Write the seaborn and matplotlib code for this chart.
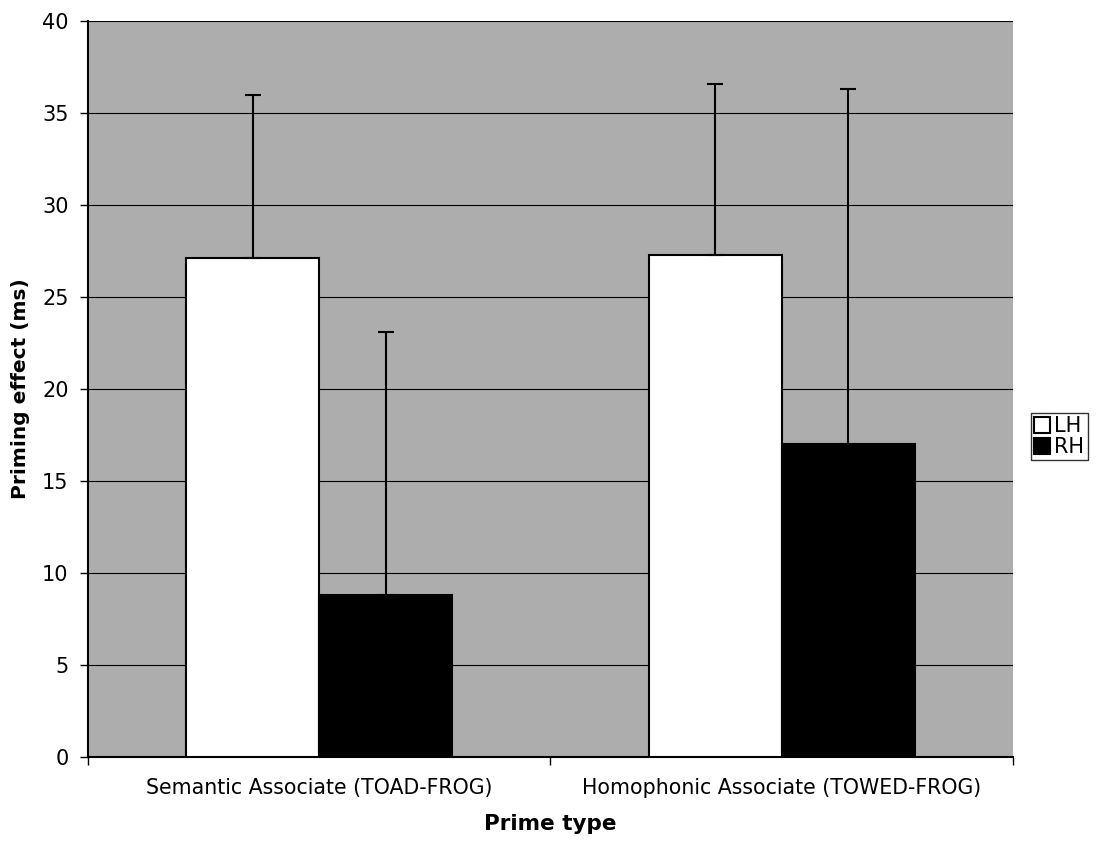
import pandas as pd
import matplotlib.pyplot as plt
import seaborn as sns

# values
prime_types = ["Semantic Associate (TOAD-FROG)", "Homophonic Associate (TOWED-FROG)"]
hemispheres = ["LH", "RH"]
lh_effect = [27.1, 27.3]
rh_effect = [8.8, 17.0]
lh_err = [8.9, 9.3]
rh_err = [14.3, 19.3]

df = pd.DataFrame({
    "prime": prime_types * 2,
    "hemi": ["LH"] * 2 + ["RH"] * 2,
    "effect": lh_effect + rh_effect,
    "err": lh_err + rh_err,
})

sns.set_style("white")
plt.rcParams["font.family"] = ["DejaVu Sans"]
plt.rcParams.update({"text.color": "black", "axes.labelcolor": "black",
                     "xtick.color": "black", "ytick.color": "black"})

fig = plt.figure(figsize=(11.05, 8.41), dpi=100)
ax = fig.add_axes([0.0796, 0.0999, 0.8371, 0.8751])
ax.set_facecolor("#adadad")

sns.barplot(data=df, x="prime", y="effect", hue="hemi",
            hue_order=hemispheres, palette=["white", "black"],
            edgecolor="black", linewidth=1.5, width=0.575, errorbar=None,
            ax=ax, zorder=3)

# upper-only error bars at each bar's centre
for cont, hemi in zip(ax.containers, hemispheres):
    sub = df[df["hemi"] == hemi]
    xs = [p.get_x() + p.get_width() / 2 for p in cont]
    ax.errorbar(xs, sub["effect"], yerr=[[0] * len(sub), sub["err"]],
                fmt="none", ecolor="black", elinewidth=1.5, capsize=6,
                capthick=1.5, zorder=4)

ax.set_ylim(0, 40)
ax.set_xlim(-0.5, 1.5)
ax.set_yticks(range(0, 41, 5))
ax.yaxis.grid(True, color="black", linewidth=0.8)
ax.set_axisbelow(True)
for g in ax.get_ygridlines():
    g.set_zorder(1)

for side in ["top", "right"]:
    ax.spines[side].set_visible(False)
for side in ["left", "bottom"]:
    ax.spines[side].set_color("black")
    ax.spines[side].set_linewidth(1.5)

ax.set_xticks([-0.5, 0.5, 1.5], minor=True)
ax.tick_params(axis="x", which="major", length=0, labelsize=14.8, pad=15)
ax.tick_params(axis="x", which="minor", bottom=True, length=6, width=1,
               color="black", direction="out")
ax.tick_params(axis="y", length=6, width=1, color="black", direction="out",
               left=True, labelsize=15, pad=8)

ax.set_xlabel("Prime type", fontsize=15.5, fontweight="bold", labelpad=12)
ax.set_ylabel("Priming effect (ms)", fontsize=14.5, fontweight="bold", labelpad=9)

leg = ax.legend(title=None, loc="center left", bbox_to_anchor=(1.019, 0.435),
                frameon=True, fancybox=False, edgecolor="black", fontsize=15,
                handlelength=0.8, handleheight=0.8, handletextpad=0.2,
                borderpad=0.15, labelspacing=0.05, borderaxespad=0)
leg.get_frame().set_linewidth(1.0)

fig.savefig("out.png", dpi=100)
